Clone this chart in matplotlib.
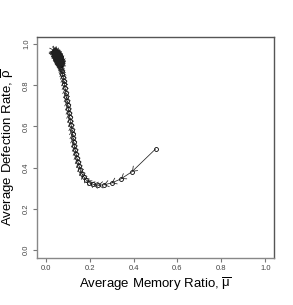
import matplotlib
matplotlib.use("Agg")
import matplotlib.pyplot as plt

plt.rcParams['font.family'] = ['Liberation Sans', 'DejaVu Sans']
plt.rcParams['mathtext.fontset'] = 'custom'
plt.rcParams['mathtext.rm'] = 'Liberation Sans'
plt.rcParams['mathtext.it'] = 'Liberation Sans:italic'

# Trajectory: average memory ratio (mu) and average defection rate (rho)
mu_path = [0.500, 0.393, 0.343, 0.300, 0.265, 0.238, 0.216, 0.199, 0.185, 0.174,
           0.165, 0.158, 0.152, 0.147, 0.142, 0.138, 0.134, 0.130, 0.127, 0.124,
           0.122, 0.119, 0.116, 0.112, 0.109, 0.106, 0.103, 0.100, 0.097, 0.094,
           0.091, 0.088, 0.085, 0.082, 0.079, 0.076, 0.073, 0.070, 0.067, 0.064,
           0.061, 0.059]
rho_path = [0.490, 0.380, 0.345, 0.325, 0.316, 0.314, 0.318, 0.326, 0.338, 0.353,
            0.370, 0.388, 0.407, 0.426, 0.445, 0.465, 0.485, 0.505, 0.525, 0.545,
            0.565, 0.585, 0.605, 0.625, 0.645, 0.665, 0.685, 0.705, 0.725, 0.745,
            0.765, 0.785, 0.805, 0.823, 0.840, 0.855, 0.868, 0.880, 0.890, 0.899,
            0.907, 0.914]
mu_late = [0.058, 0.053, 0.048, 0.044, 0.040, 0.037, 0.035, 0.037, 0.042, 0.048,
           0.054, 0.059, 0.064, 0.068, 0.071, 0.073, 0.072, 0.069, 0.065, 0.061,
           0.057, 0.052, 0.048, 0.044, 0.041, 0.040, 0.044, 0.049, 0.054, 0.059,
           0.063, 0.066, 0.067, 0.065, 0.061, 0.057, 0.053, 0.049, 0.046, 0.045,
           0.048, 0.052, 0.056, 0.060, 0.062, 0.061, 0.058, 0.055, 0.052, 0.050,
           0.049, 0.051, 0.054, 0.057, 0.059, 0.058, 0.055, 0.053, 0.054, 0.056,
           0.047, 0.043, 0.042, 0.046, 0.050, 0.055, 0.060, 0.064, 0.068, 0.069,
           0.066, 0.062, 0.058, 0.054, 0.050, 0.047, 0.051, 0.056, 0.060, 0.063,
           0.066, 0.063, 0.059, 0.055, 0.051, 0.047, 0.043, 0.039, 0.038, 0.041,
           0.045, 0.050, 0.055, 0.059, 0.063, 0.066, 0.068, 0.070, 0.067, 0.064,
           0.060, 0.056, 0.052, 0.048, 0.045, 0.043, 0.047, 0.052, 0.057, 0.061]
rho_late = [0.921, 0.929, 0.937, 0.945, 0.952, 0.958, 0.964, 0.969, 0.970, 0.967,
            0.961, 0.954, 0.946, 0.937, 0.928, 0.918, 0.908, 0.900, 0.898, 0.904,
            0.913, 0.922, 0.931, 0.940, 0.948, 0.956, 0.961, 0.958, 0.952, 0.944,
            0.935, 0.926, 0.916, 0.908, 0.906, 0.912, 0.921, 0.930, 0.939, 0.947,
            0.953, 0.949, 0.942, 0.934, 0.925, 0.916, 0.913, 0.919, 0.927, 0.935,
            0.942, 0.946, 0.940, 0.932, 0.924, 0.918, 0.922, 0.930, 0.936, 0.929,
            0.955, 0.951, 0.944, 0.936, 0.928, 0.920, 0.911, 0.904, 0.910, 0.920,
            0.930, 0.939, 0.947, 0.955, 0.962, 0.950, 0.938, 0.926, 0.917, 0.909,
            0.913, 0.918, 0.925, 0.931, 0.938, 0.944, 0.950, 0.957, 0.963, 0.966,
            0.964, 0.959, 0.951, 0.943, 0.935, 0.926, 0.918, 0.912, 0.906, 0.903,
            0.909, 0.916, 0.924, 0.933, 0.941, 0.948, 0.944, 0.936, 0.927, 0.919]
ticks = [0.0, 0.2, 0.4, 0.6, 0.8, 1.0]
tick_labels = ["0.0", "0.2", "0.4", "0.6", "0.8", "1.0"]

mu = mu_path + mu_late
rho = rho_path + rho_late

fig = plt.figure(figsize=(2.93, 3.05), dpi=100)
ax = fig.add_axes([37/293, 47/305, 237/293, 221/305])

for i in range(len(mu) - 1):
    ax.annotate('', xy=(mu[i+1], rho[i+1]), xytext=(mu[i], rho[i]),
                arrowprops=dict(arrowstyle='->,head_length=0.6,head_width=0.45',
                                lw=0.55, color='#222222', mutation_scale=5,
                                shrinkA=0, shrinkB=0))
ax.plot(mu, rho, linestyle='none', marker='o', markersize=2.8,
        markerfacecolor='none', markeredgecolor='black', markeredgewidth=0.6)

ax.set_xlim(-0.04, 1.04)
ax.set_ylim(-0.04, 1.035)
ax.set_xticks(ticks)
ax.set_xticklabels(tick_labels)
ax.set_yticks(ticks)
ax.set_yticklabels(tick_labels, rotation=90, va='center')
ax.tick_params(axis='both', labelsize=5.5, labelcolor='#444444', color='#777777',
               length=3, width=0.8, pad=2)

for s in ['left', 'bottom']:
    ax.spines[s].set_color('#888888')
    ax.spines[s].set_linewidth(1.0)
for s in ['top', 'right']:
    ax.spines[s].set_color('#555555')
    ax.spines[s].set_linewidth(1.0)

ax.set_xlabel(r'Average Memory Ratio, $\overline{\mathrm{\mu}}$', fontsize=9.5, labelpad=3)
ax.set_ylabel(r'Average Defection Rate, $\overline{\mathrm{\rho}}$', fontsize=9.5, labelpad=4)

fig.savefig('out.png', dpi=100)
